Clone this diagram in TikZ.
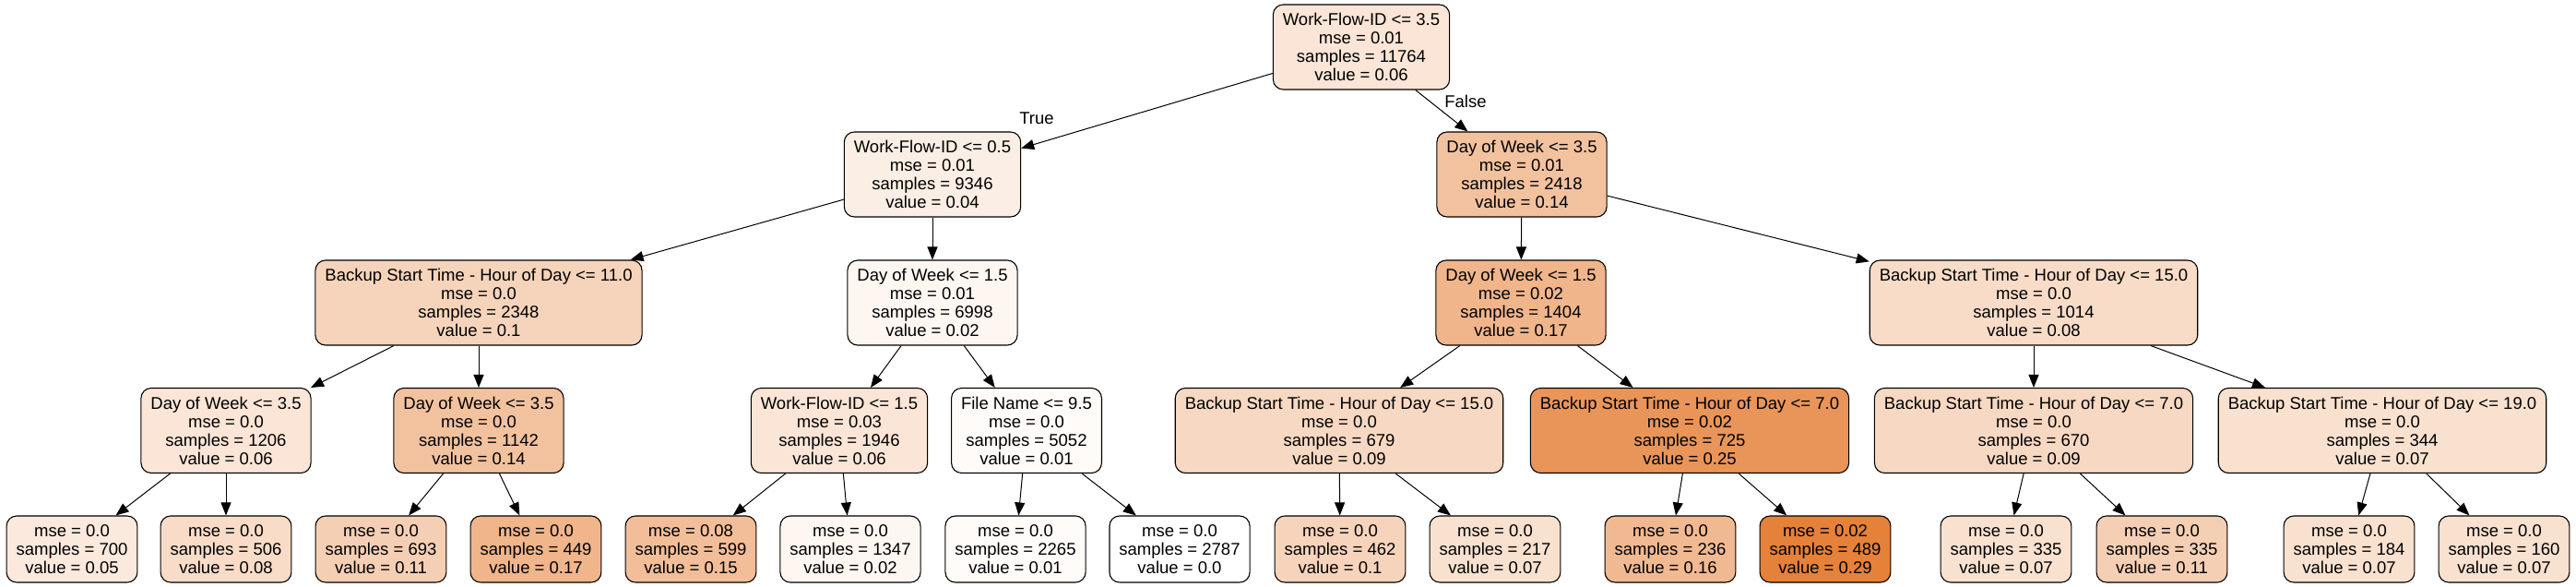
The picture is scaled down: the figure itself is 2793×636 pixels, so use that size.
\documentclass[tikz,border=0pt]{standalone}
\usepackage{fontspec}
\setmainfont{Liberation Sans}
\usetikzlibrary{arrows.meta}
\definecolor{ob}{HTML}{E58139}
\begin{document}
\begin{tikzpicture}[x=1pt,y=-1pt,
  tn/.style={draw=black, line width=1.1pt, rounded corners=11pt, align=center,
    font=\fontsize{18.5}{20}\selectfont, inner xsep=10.5pt, inner ysep=0pt,
    minimum height=92pt},
  leaf/.style={tn, minimum height=72pt},
  v/.style={fill=ob!#1!white},
  edge/.style={line width=1pt, -{Triangle[length=14pt,width=11pt]}},
  lbl/.style={font=\fontsize{18.5}{20}\selectfont}]
\useasboundingbox (0,0) rectangle (2793,636);
\fill[white] (0,0) rectangle (2793,636);
% level 0
\node[tn,v=20.7] (n0) at (1476,51) {Work-Flow-ID <= 3.5\\mse = 0.01\\samples = 11764\\value = 0.06};
% level 1
\node[tn,v=13.8] (n1) at (1011,189) {Work-Flow-ID <= 0.5\\mse = 0.01\\samples = 9346\\value = 0.04};
\node[tn,v=48.3] (n2) at (1650,189) {Day of Week <= 3.5\\mse = 0.01\\samples = 2418\\value = 0.14};
% level 2
\node[tn,v=34.5] (n3) at (519,328) {Backup Start Time - Hour of Day <= 11.0\\mse = 0.0\\samples = 2348\\value = 0.1};
\node[tn,v=6.9] (n4) at (1011,328) {Day of Week <= 1.5\\mse = 0.01\\samples = 6998\\value = 0.02};
\node[tn,v=58.6] (n5) at (1649,328) {Day of Week <= 1.5\\mse = 0.02\\samples = 1404\\value = 0.17};
\node[tn,v=27.6] (n6) at (2205,328) {Backup Start Time - Hour of Day <= 15.0\\mse = 0.0\\samples = 1014\\value = 0.08};
% level 3
\node[tn,v=20.7] (n7) at (245,466.5) {Day of Week <= 3.5\\mse = 0.0\\samples = 1206\\value = 0.06};
\node[tn,v=48.3] (n8) at (519,466.5) {Day of Week <= 3.5\\mse = 0.0\\samples = 1142\\value = 0.14};
\node[tn,v=20.7] (n9) at (910,466.5) {Work-Flow-ID <= 1.5\\mse = 0.03\\samples = 1946\\value = 0.06};
\node[tn,v=3.4] (n10) at (1113,466.5) {File Name <= 9.5\\mse = 0.0\\samples = 5052\\value = 0.01};
\node[tn,v=31] (n11) at (1452,466.5) {Backup Start Time - Hour of Day <= 15.0\\mse = 0.0\\samples = 679\\value = 0.09};
\node[tn,v=84] (n12) at (1832,466.5) {Backup Start Time - Hour of Day <= 7.0\\mse = 0.02\\samples = 725\\value = 0.25};
\node[tn,v=31] (n13) at (2205,466.5) {Backup Start Time - Hour of Day <= 7.0\\mse = 0.0\\samples = 670\\value = 0.09};
\node[tn,v=24.1] (n14) at (2583,466.5) {Backup Start Time - Hour of Day <= 19.0\\mse = 0.0\\samples = 344\\value = 0.07};
% leaves
\node[leaf,v=17.2] (l1) at (78,595) {mse = 0.0\\samples = 700\\value = 0.05};
\node[leaf,v=27.6] (l2) at (245,595) {mse = 0.0\\samples = 506\\value = 0.08};
\node[leaf,v=37.9] (l3) at (413,595) {mse = 0.0\\samples = 693\\value = 0.11};
\node[leaf,v=58.6] (l4) at (581,595) {mse = 0.0\\samples = 449\\value = 0.17};
\node[leaf,v=51.7] (l5) at (749,595) {mse = 0.08\\samples = 599\\value = 0.15};
\node[leaf,v=6.9] (l6) at (922,595) {mse = 0.0\\samples = 1347\\value = 0.02};
\node[leaf,v=3.4] (l7) at (1101,595) {mse = 0.0\\samples = 2265\\value = 0.01};
\node[leaf,v=0] (l8) at (1279,595) {mse = 0.0\\samples = 2787\\value = 0.0};
\node[leaf,v=34.5] (l9) at (1453,595) {mse = 0.0\\samples = 462\\value = 0.1};
\node[leaf,v=24.1] (l10) at (1621,595) {mse = 0.0\\samples = 217\\value = 0.07};
\node[leaf,v=55.2] (l11) at (1811,595) {mse = 0.0\\samples = 236\\value = 0.16};
\node[leaf,v=100] (l12) at (1979,595) {mse = 0.02\\samples = 489\\value = 0.29};
\node[leaf,v=24.1] (l13) at (2175,595) {mse = 0.0\\samples = 335\\value = 0.07};
\node[leaf,v=37.9] (l14) at (2344,595) {mse = 0.0\\samples = 335\\value = 0.11};
\node[leaf,v=24.1] (l15) at (2547,595) {mse = 0.0\\samples = 184\\value = 0.07};
\node[leaf,v=24.1] (l16) at (2715,595) {mse = 0.0\\samples = 160\\value = 0.07};
% edges
\draw[edge] (n0) -- (n1);
\draw[edge] (n0) -- (n2);
\draw[edge] (n1) -- (n3);
\draw[edge] (n1) -- (n4);
\draw[edge] (n2) -- (n5);
\draw[edge] (n2) -- (n6);
\draw[edge] (n3) -- (n7);
\draw[edge] (n3) -- (n8);
\draw[edge] (n4) -- (n9);
\draw[edge] (n4) -- (n10);
\draw[edge] (n5) -- (n11);
\draw[edge] (n5) -- (n12);
\draw[edge] (n6) -- (n13);
\draw[edge] (n6) -- (n14);
\draw[edge] (n7) -- (l1);
\draw[edge] (n7) -- (l2);
\draw[edge] (n8) -- (l3);
\draw[edge] (n8) -- (l4);
\draw[edge] (n9) -- (l5);
\draw[edge] (n9) -- (l6);
\draw[edge] (n10) -- (l7);
\draw[edge] (n10) -- (l8);
\draw[edge] (n11) -- (l9);
\draw[edge] (n11) -- (l10);
\draw[edge] (n12) -- (l11);
\draw[edge] (n12) -- (l12);
\draw[edge] (n13) -- (l13);
\draw[edge] (n13) -- (l14);
\draw[edge] (n14) -- (l15);
\draw[edge] (n14) -- (l16);
% labels
\node[lbl] (tlabel) at (1124,128) {True};
\node[lbl] (flabel) at (1589,110) {False};
\end{tikzpicture}
\end{document}
